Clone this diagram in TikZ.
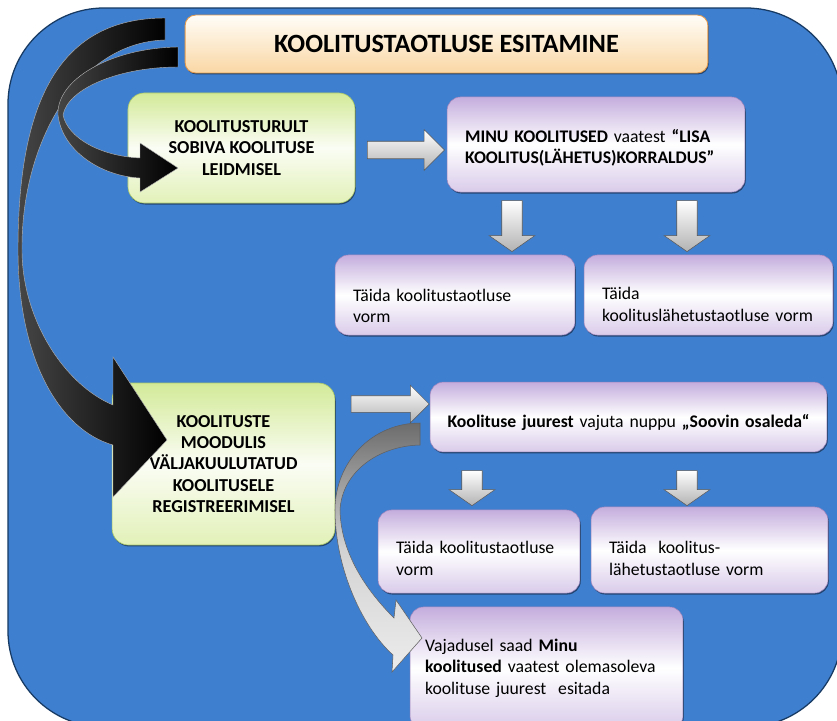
\documentclass[tikz,border=0pt]{standalone}
\usepackage{fontspec}
\setmainfont{Carlito}
\usetikzlibrary{shapes.arrows,shadows}

\definecolor{bgblue}{HTML}{3F7FCF}
\definecolor{bgline}{HTML}{173A63}
\definecolor{grtop}{HTML}{D3EA98}
\definecolor{grbot}{HTML}{E2F1B8}
\definecolor{grline}{HTML}{A9C86A}
\definecolor{purtop}{HTML}{C4ADDD}
\definecolor{purbot}{HTML}{D9CBEA}
\definecolor{purline}{HTML}{9C86BE}
\definecolor{ttop}{HTML}{FFFDF8}
\definecolor{tbot}{HTML}{FAD7A4}
\definecolor{tline}{HTML}{E39A4C}

\begin{document}
\begin{tikzpicture}[
  x=0.033333cm, y=-0.033333cm,
  shadowed/.style={drop shadow={shadow xshift=0.8pt, shadow yshift=-1.4pt, opacity=0.45, fill=black}},
  titlebox/.style={shadowed, draw=tline, line width=0.8pt, rounded corners=0.35cm,
    top color=ttop, bottom color=tbot, font=\fontsize{25}{28}\selectfont\bfseries},
  greenbox/.style={shadowed, draw=grline, line width=0.6pt, rounded corners=0.55cm,
    top color=grtop, bottom color=grbot, middle color=white!90!grtop,
    align=center, font=\fontsize{17.3}{20}\selectfont\bfseries},
  purplebox/.style={shadowed, draw=purline, line width=0.5pt, rounded corners=0.45cm,
    top color=purtop, bottom color=purbot, middle color=white,
    align=left, text width=#1, inner xsep=0.6cm, font=\fontsize{16.8}{20.5}\selectfont},
  garrow/.style={single arrow, draw=gray!70!black, line width=0.5pt,
    top color=white, bottom color=gray!60, single arrow head indent=0pt},
  downarrow/.style={garrow, shape border rotate=270, single arrow tip angle=110,
    inner sep=0.333cm, minimum width=1.5cm, single arrow head extend=0.417cm},
  curvedblack/.style={draw=gray!60, line width=0.4pt, left color=gray!55!black, right color=black},
  curvedgray/.style={draw=gray!75!black, line width=0.5pt,
    top color=gray!85!black, bottom color=gray!15, middle color=gray!35}
]
\useasboundingbox (0,0) rectangle (837,720);
\clip (0,0) rectangle (837,720);
\fill[white] (0,0) rectangle (837,720);

% blue panel
\filldraw[fill=bgblue, draw=bgline, line width=1.2pt, rounded corners=3.2cm] (8,8) rectangle (842,727);

% boxes
\node[titlebox, minimum width=17.43cm, minimum height=1.93cm] (title) at (446.5,44) {KOOLITUSTAOTLUSE ESITAMINE};

\node[greenbox, minimum width=7.57cm, minimum height=3.67cm] (find) at (241.5,148)
  {KOOLITUSTURULT\\SOBIVA KOOLITUSE\\LEIDMISEL};
\node[purplebox=8.73cm, minimum height=3.17cm] (minu) at (596,144.5)
  {\rule{0pt}{19pt}\textbf{MINU KOOLITUSED} vaatest \textbf{“LISA}\\\textbf{KOOLITUS(LÄHETUS)KORRALDUS”}};
\node[purplebox=6.8cm, minimum height=2.67cm] (form1) at (455,295)
  {\rule{0pt}{32pt}Täida koolitustaotluse\\vorm};
\node[purplebox=7.1cm, minimum height=2.67cm] (form2) at (708.5,295)
  {\rule{0pt}{30pt}Täida\\koolituslähetustaotluse vorm};

\node[greenbox, minimum width=7.43cm, minimum height=5.4cm] (reg) at (223.5,464)
  {KOOLITUSTE\\MOODULIS\\VÄLJAKUULUTATUD\\KOOLITUSELE\\REGISTREERIMISEL};
\node[purplebox=12.23cm, align=center, inner xsep=0.5cm, minimum height=2.33cm] (soovin) at (628.5,417)
  {\rule{0pt}{22.5pt}\textbf{Koolituse juurest} vajuta nuppu \textbf{„Soovin osaleda“}};
\node[purplebox=5.53cm, minimum height=2.77cm] (form3) at (479,551.5)
  {\rule{0pt}{25pt}Täida koolitustaotluse\\vorm};
\node[purplebox=6.7cm, minimum height=2.87cm] (form4) at (709.5,550)
  {\rule{0pt}{28pt}Täida\ \ koolitus-\\lähetustaotluse vorm};
\node[purplebox=8.1cm, inner xsep=0.5cm, minimum height=4.07cm] (extra) at (546.5,668)
  {Vajadusel saad \textbf{Minu}\\\textbf{koolitused} vaatest olemasoleva\\koolituse juurest\ \ esitada};

% straight block arrows
\node[garrow, inner sep=0.283cm, minimum height=2.57cm, minimum width=1.33cm, single arrow head extend=0.383cm] (ra1) at (401.5,150) {};
\node[garrow, inner sep=0.267cm, minimum height=2.6cm, minimum width=1.23cm, single arrow head extend=0.35cm] (ra2) at (386,404) {};
\node[downarrow, minimum height=1.7cm] (da1) at (512,222.5) {};
\node[downarrow, minimum height=1.7cm] (da2) at (687,222.5) {};
\node[downarrow, minimum height=1.17cm] (da3) at (472,484.5) {};
\node[downarrow, minimum height=1.17cm] (da4) at (687,484.5) {};

% curved arrows from the title
\shade[curvedblack] (165,18) .. controls (60,18) and (18,100) .. (18,250)
  .. controls (18,360) and (60,430) .. (113,445)
  -- (113,497) -- (167,440) -- (113,357) -- (113,405)
  .. controls (65,385) and (22,320) .. (22,250)
  .. controls (21,140) and (80,42) .. (165,40) -- cycle;
\shade[curvedblack] (178,47) .. controls (110,48) and (56,80) .. (58,115)
  .. controls (62,150) and (100,176) .. (140,178)
  -- (140,192) -- (178,168) -- (140,143) -- (140,158)
  .. controls (100,156) and (68,138) .. (63,115)
  .. controls (68,88) and (120,67) .. (178,67) -- cycle;

% curved arrow to the last box
\shade[curvedgray] (420,423) .. controls (372,423) and (335,462) .. (335,510)
  .. controls (335,565) and (360,625) .. (393,655)
  -- (392,672) -- (422,638) -- (396,600) -- (394,618)
  .. controls (368,592) and (341,555) .. (340,510)
  .. controls (342,472) and (378,446) .. (420,445) -- cycle;

\end{tikzpicture}
\end{document}
